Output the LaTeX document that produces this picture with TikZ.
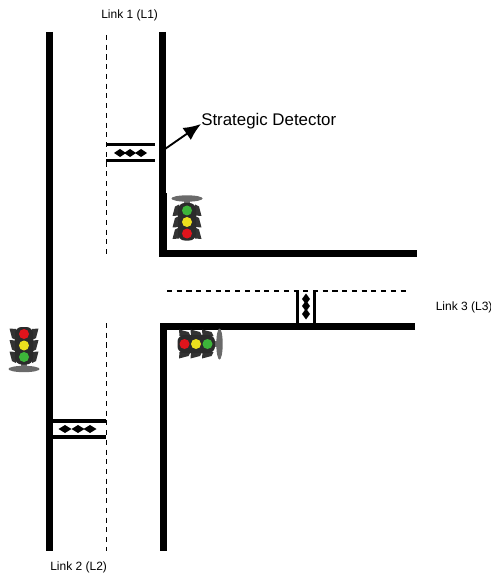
\documentclass[tikz,border=0pt]{standalone}
\usepackage{fontspec}
\setmainfont{Liberation Sans}
\usetikzlibrary{arrows.meta}
\definecolor{lred}{HTML}{E0141C}
\definecolor{lyellow}{HTML}{EDE01E}
\definecolor{lgreen}{HTML}{3DB53A}
\definecolor{lbody}{HTML}{2B2B2B}
\definecolor{lvisor}{HTML}{333333}
\definecolor{lbase}{HTML}{6A6A6A}
\tikzset{
  road/.style={line width=5.25pt,line cap=butt,line join=miter},
  lane/.style={line width=1.25pt,dash pattern=on 3.8pt off 3.5pt},
  loopline/.style={line width=2.4pt},
  lbl/.style={font=\fontsize{9}{11}\selectfont,inner sep=0pt,text=black},
  bigl/.style={font=\fontsize{12.65}{15}\selectfont,inner sep=0pt,text=black},
  diam/.style={fill=black},
  pics/tlight/.style={code={
    % visors on both sides of each lamp: wide at the lamp's top, tapering down
    \foreach \yy in {-11.5,0,11.5}{
      \fill[lvisor] (-8,\yy-5) -- (-14.5,\yy-5.5) -- (-12,\yy+4) -- (-8,\yy+6) -- cycle;
      \fill[lvisor] (8,\yy-5) -- (14.5,\yy-5.5) -- (12,\yy+4) -- (8,\yy+6) -- cycle;
    }
    % base
    \fill[lbase] (-3,17) rectangle (3,23);
    \fill[lbase] (0,23.5) ellipse [x radius=15.5,y radius=3.2];
    \fill[lbody,rounded corners=5pt] (-9,-18.5) rectangle (9,19);
    \fill[lred] (0,-11.5) circle [radius=5];
    \fill[lyellow] (0,0) circle [radius=5];
    \fill[lgreen] (0,11.5) circle [radius=5];
  }},
}
\begin{document}
\begin{tikzpicture}[x=0.75pt,y=-0.75pt]
\useasboundingbox (0,0) rectangle (491,573);
% road edges
\draw[road] (49,32) -- (49,551);
\draw[road] (162.5,32) -- (162.5,253) -- (417,253);
\draw[road] (415,326.5) -- (163,326.5) -- (163,551);
\fill[black] (162,193) rectangle (167,250);
% lane dividers
\draw[lane] (106.5,35) -- (106.5,254);
\draw[lane] (106.5,323) -- (106.5,551);
\draw[lane] (167,291) -- (408,291);
% detector L1
\draw[loopline] (106,144.5) -- (155,144.5);
\draw[loopline] (106,160.5) -- (155,160.5);
% detector L2
\draw[loopline] (52,421) -- (106,421);
\draw[loopline] (52,437) -- (106,437);
% detector L3
\draw[loopline] (297.5,291) -- (297.5,324);
\draw[loopline] (314.5,291) -- (314.5,324);
% diamonds
\foreach \cx in {120,130,141}{
  \fill[diam] (\cx-6,153) -- (\cx,149) -- (\cx+6,153) -- (\cx,157) -- cycle;
}
\foreach \cx in {65,78,90}{
  \fill[diam] (\cx-6.5,429) -- (\cx,425) -- (\cx+6.5,429) -- (\cx,433) -- cycle;
}
\foreach \cy in {299,306,314}{
  \fill[diam] (306,\cy-5.5) -- (310,\cy) -- (306,\cy+5.5) -- (302,\cy) -- cycle;
}
% traffic lights
\pic[rotate=0] at (24,345.5) {tlight};
\pic[rotate=180] at (187,222) {tlight};
\pic[rotate=90] at (196,344) {tlight};
% labels
\node[lbl,anchor=west] (l1) at (101,15) {Link 1 (L1)};
\node[lbl,anchor=west] (l2) at (50,567) {Link 2 (L2)};
\node[lbl,anchor=west] (l3) at (435.5,307) {Link 3 (L3)};
\node[bigl,anchor=west] (sd) at (201,121) {Strategic Detector};
\coordinate (atail) at (165,149);
\coordinate (ahead) at (201,124);
\draw[line width=1.4pt,-{Latex[length=13pt,width=11pt]}] (atail) -- (ahead);
\end{tikzpicture}
\end{document}
